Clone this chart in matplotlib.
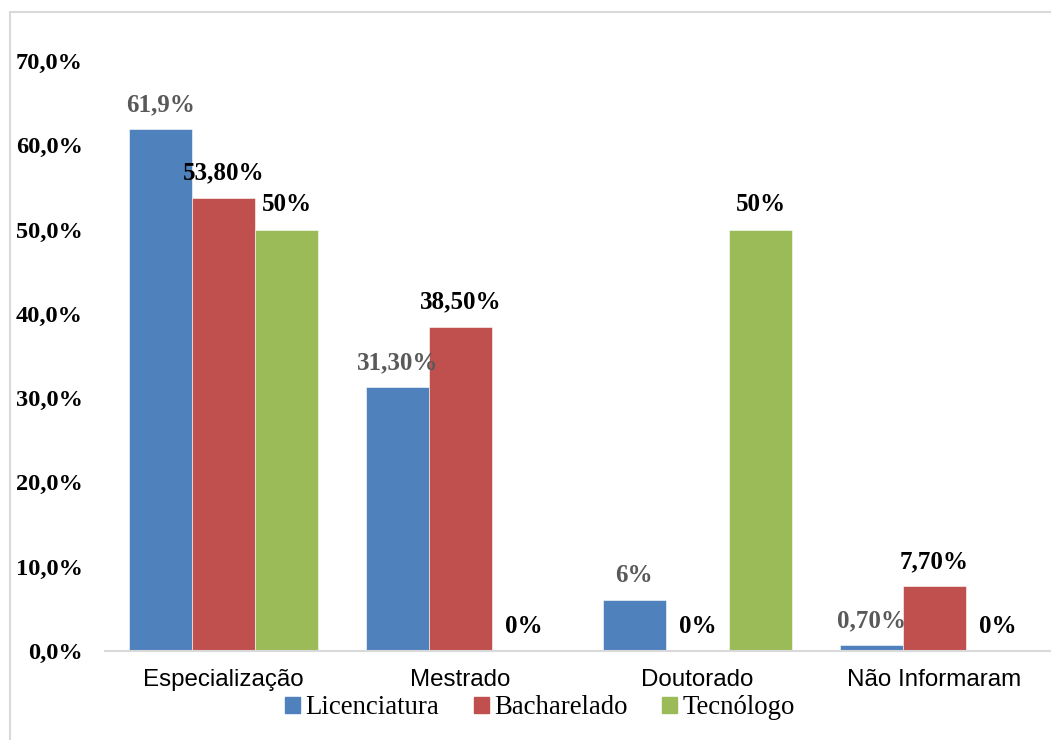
import matplotlib
matplotlib.use("Agg")
import matplotlib.pyplot as plt
import matplotlib.patches as mpatches
import numpy as np

categories = ["Especialização", "Mestrado", "Doutorado", "Não Informaram"]
series = ["Licenciatura", "Bacharelado", "Tecnólogo"]
licenciatura = [61.9, 31.3, 6.0, 0.7]
bacharelado = [53.8, 38.5, 0.0, 7.7]
tecnologo = [50.0, 0.0, 50.0, 0.0]
lic_labels = ["61,9%", "31,30%", "6%", "0,70%"]
bach_labels = ["53,80%", "38,50%", "0%", "7,70%"]
tec_labels = ["50%", "0%", "50%", "0%"]
yticks = [0, 10, 20, 30, 40, 50, 60, 70]
ytick_labels = ["0,0%", "10,0%", "20,0%", "30,0%", "40,0%", "50,0%", "60,0%", "70,0%"]

colors = ["#4f81bd", "#c0504d", "#9bbb59"]
label_colors = ["#595959", "black", "black"]
serif = ["Liberation Serif", "DejaVu Serif"]
sans = ["Liberation Sans", "DejaVu Sans"]

W, H = 1051, 740
fig = plt.figure(figsize=(W / 100, H / 100), dpi=100)
ax = fig.add_axes([105 / W, 1 - 651 / H, (1053 - 105) / W, 590 / H])

# outer chart border (Excel-style)
fig.patches.append(mpatches.Rectangle((10 / W, -0.1), 1.2, 1.1 - 12 / H,
                                      transform=fig.transFigure, fill=False,
                                      edgecolor="#d9d9d9", lw=1.5))

x = np.arange(len(categories))
w = 0.8 / 3
data = [licenciatura, bacharelado, tecnologo]
labels = [lic_labels, bach_labels, tec_labels]
for i, (vals, labs) in enumerate(zip(data, labels)):
    xs = x + (i - 1) * w
    ax.bar(xs, vals, width=w, color=colors[i], edgecolor="#ffffff", lw=0.4,
           label=series[i], zorder=2)
    for xi, v, lab in zip(xs, vals, labs):
        ax.annotate(lab, (xi, v), xytext=(0, 17.8), textcoords="offset points",
                    ha="center", va="center", fontsize=18, fontweight="bold",
                    family=serif, color=label_colors[i])

ax.set_xlim(-0.5, 3.5)
ax.set_ylim(0, 70)
ax.set_yticks(yticks)
ax.set_yticklabels(ytick_labels, fontsize=17.6, fontweight="bold", family=serif)
ax.set_xticks(x)
ax.set_xticklabels(categories, fontsize=17.4, family=sans)
ax.tick_params(axis="y", length=0, pad=16)
ax.tick_params(axis="x", length=0, pad=13)
for s in ["top", "right", "left"]:
    ax.spines[s].set_visible(False)
ax.spines["bottom"].set_color("#d9d9d9")
ax.spines["bottom"].set_linewidth(1.5)

handles = [mpatches.Patch(color=c) for c in colors]
fig.legend(handles, series, loc="center", bbox_to_anchor=(540 / W, 1 - 708 / H),
           ncol=3, frameon=False, prop={"family": serif, "size": 19.3},
           handlelength=0.55, handleheight=0.55, handletextpad=0.2, columnspacing=1.3)

fig.savefig("out.png", dpi=100)
